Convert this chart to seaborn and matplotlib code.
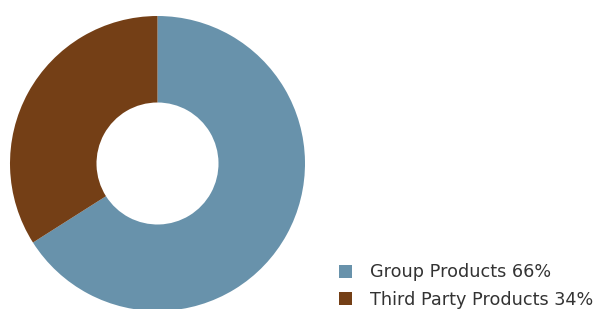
import matplotlib
matplotlib.use("Agg")
import matplotlib.pyplot as plt
import seaborn as sns
from matplotlib.patches import Patch

categories = ["Group Products", "Third Party Products"]
values = [66, 34]
colors = ["#6892ab", "#743f16"]

sns.set_style("white")
plt.rcParams["font.family"] = ["DejaVu Sans"]

W, H = 598, 309
fig = plt.figure(figsize=(W / 100, H / 100), dpi=100)
cx, cy, r = 157.5, 163.5, 147.5
ax = fig.add_axes([(cx - r) / W, (H - cy - r) / H, 2 * r / W, 2 * r / H])
ax.pie(values, colors=colors, startangle=90, counterclock=False,
       radius=1, wedgeprops=dict(width=1 - 61 / r, linewidth=0))
ax.set_xlim(-1, 1)
ax.set_ylim(-1, 1)
ax.set_aspect("equal")
ax.axis("off")

handles = [Patch(facecolor=c, edgecolor="none") for c in colors]
labels = [f"{c} {v}%" for c, v in zip(categories, values)]
leg = fig.legend(handles, labels, loc="lower left",
                 bbox_to_anchor=(339 / W, 0 / H), frameon=False,
                 fontsize=12.7, handlelength=0.75, handleheight=0.75,
                 handletextpad=1.02, labelspacing=0.55, borderpad=0,
                 borderaxespad=0)
for t in leg.get_texts():
    t.set_color("#333333")

fig.savefig("out.png", dpi=100)
